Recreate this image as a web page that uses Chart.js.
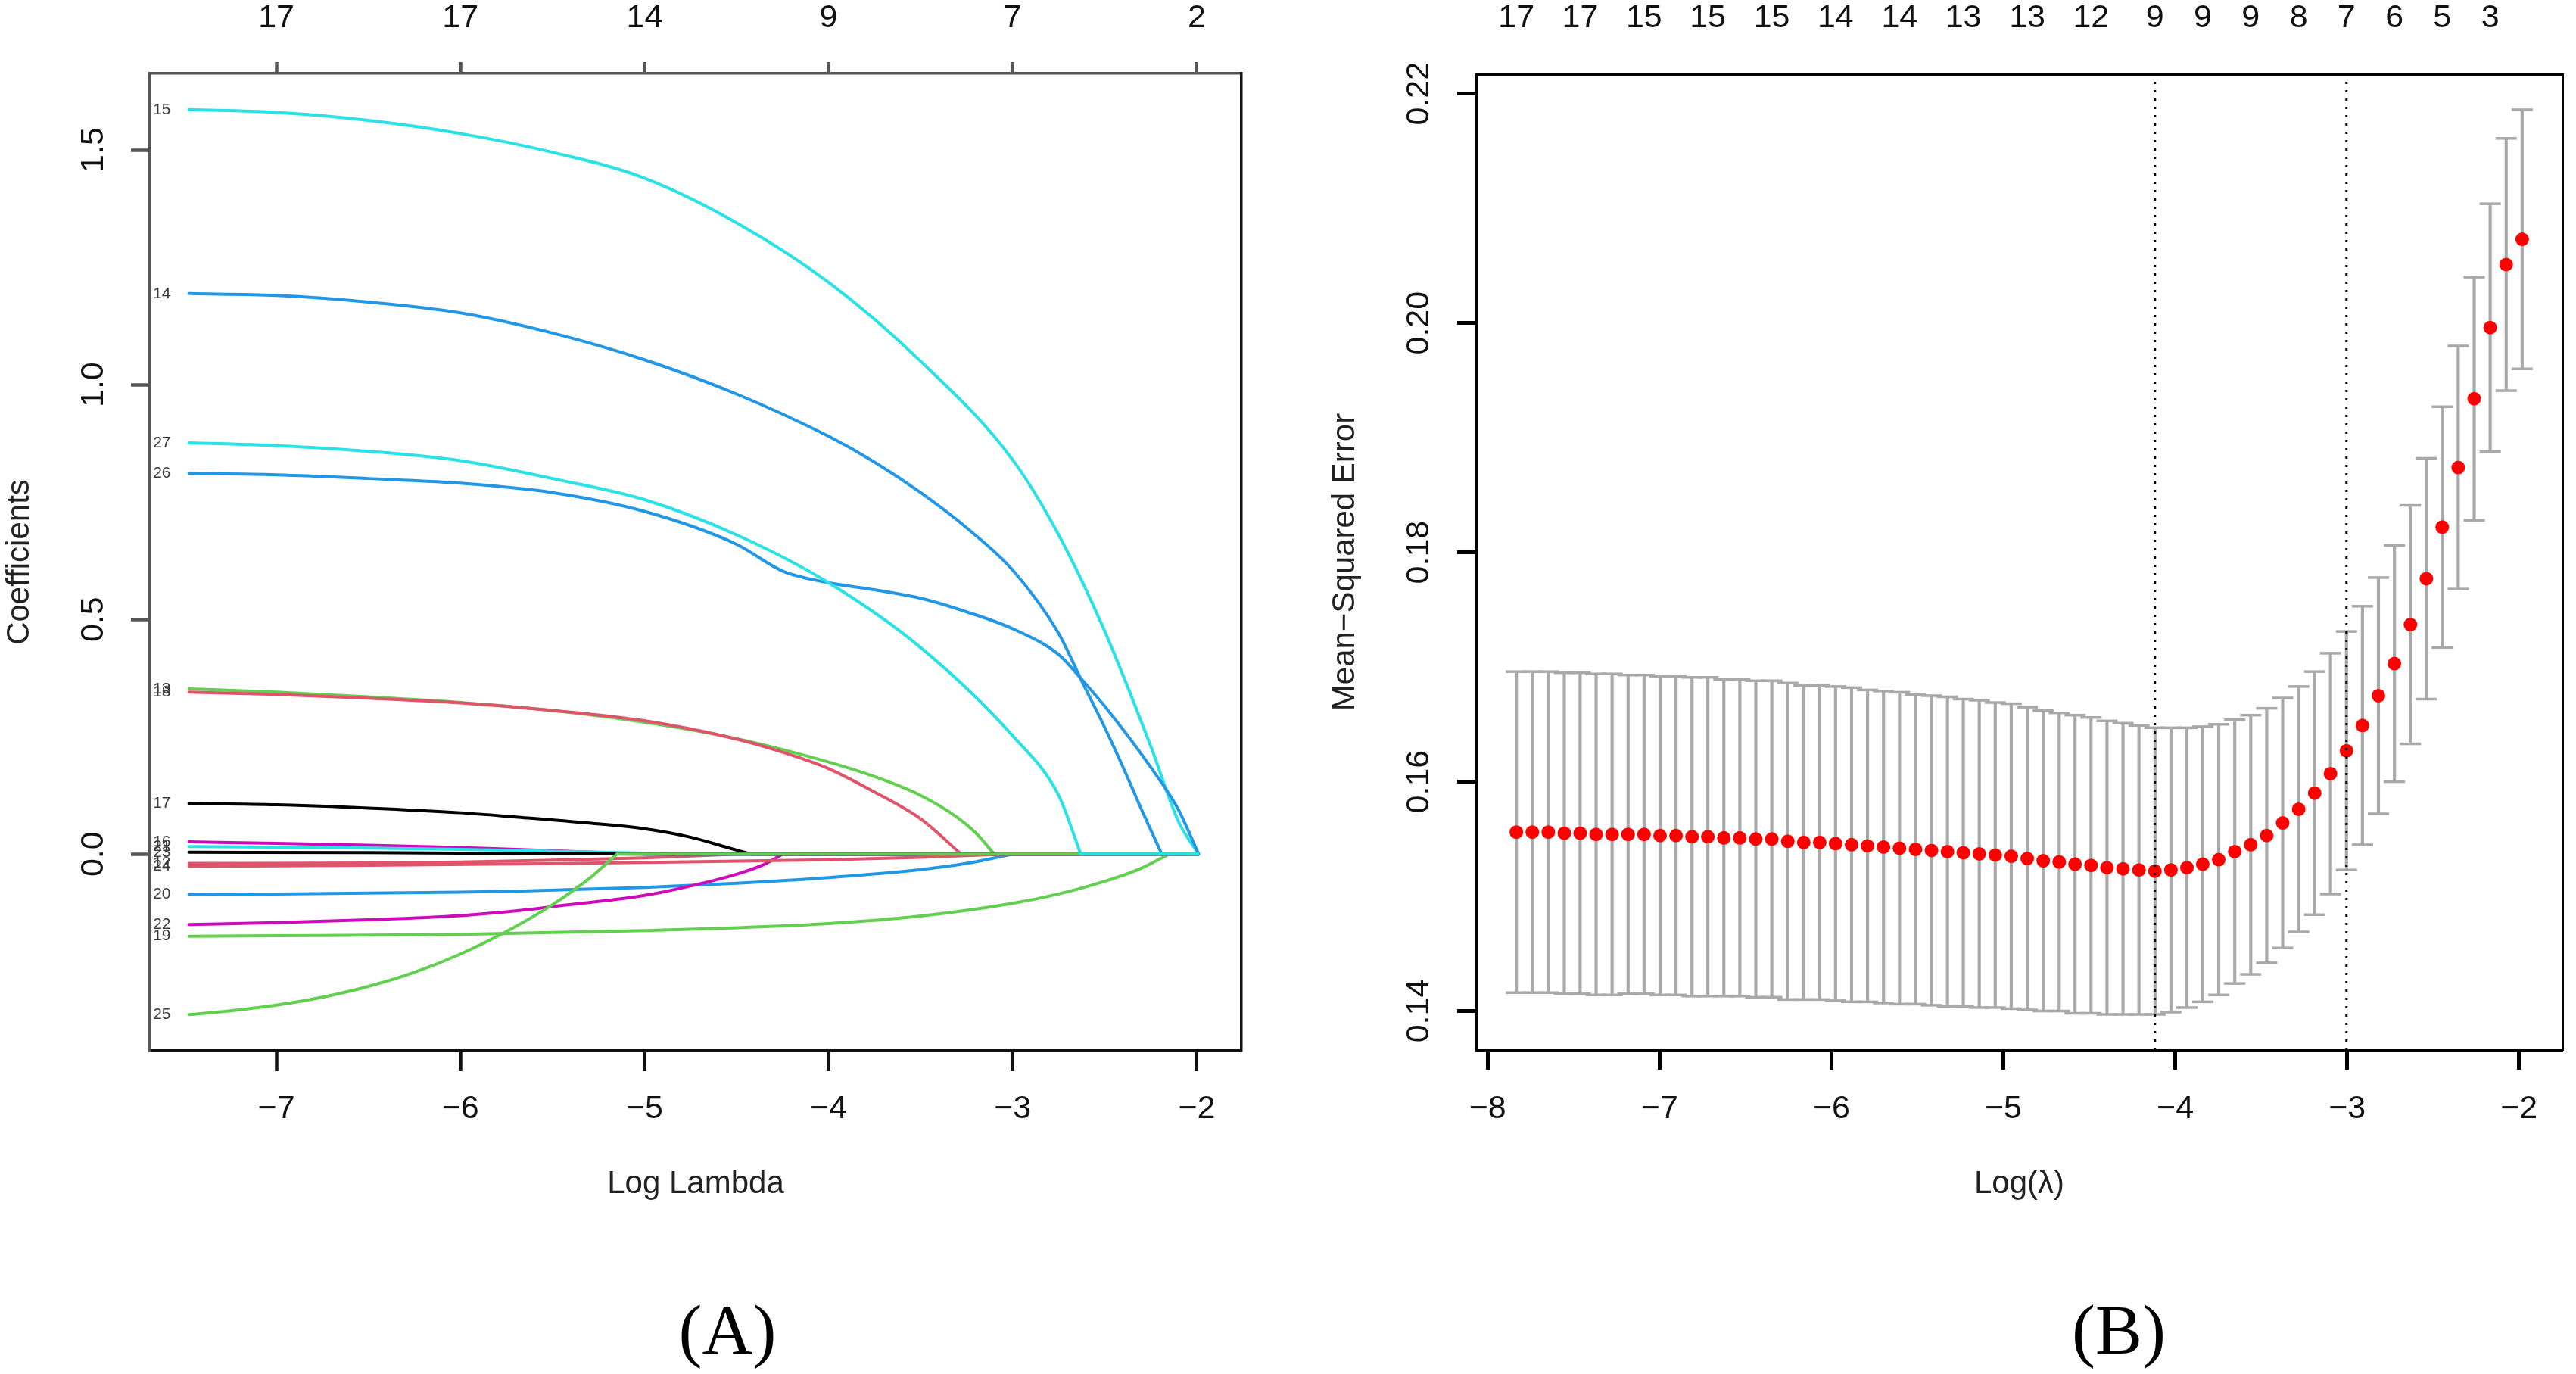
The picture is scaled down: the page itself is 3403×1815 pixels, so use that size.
<!DOCTYPE html>
<html>
<head>
<meta charset="utf-8">
<script src="https://cdn.jsdelivr.net/npm/chart.js@4.4.1/dist/chart.umd.min.js"></script>
<style>
  html, body { margin: 0; padding: 0; background: #fff; width: 3403px; height: 1815px; overflow: hidden; }
  canvas { position: absolute; top: 0; }
  #chartA { left: 0; }
  #chartB { left: 1700px; }
</style>
</head>
<body>
<canvas id="chartA" width="1700" height="1815"></canvas>
<canvas id="chartB" width="1703" height="1815"></canvas>
<script>
/* ---- (A) lasso coefficient paths: [log(lambda), coefficient] ---- */
var varIds = [12, 13, 14, 15, 16, 17, 18, 19, 20, 21, 22, 23, 24, 25, 26, 27];
var path12 = [[-7.475, -0.020], [-6.5, -0.019], [-6, -0.017], [-5.5, -0.013], [-5, -0.008], [-4.5, 0]];
var path13 = [[-7.475, 0.352], [-7, 0.345], [-6.5, 0.335], [-6, 0.323], [-5.5, 0.306], [-5, 0.281], [-4.5, 0.246], [-4, 0.196], [-3.75, 0.165], [-3.5, 0.125], [-3.3, 0.078], [-3.2, 0.045], [-3.1, 0]];
var path14 = [[-7.475, 1.194], [-7, 1.19], [-6.5, 1.176], [-6, 1.153], [-5.5, 1.11], [-5, 1.053], [-4.5, 0.98], [-4, 0.89], [-3.75, 0.835], [-3.5, 0.77], [-3.25, 0.695], [-3, 0.605], [-2.75, 0.47], [-2.62, 0.365], [-2.5, 0.27], [-2.4, 0.185], [-2.3, 0.095], [-2.19, 0]];
var path15 = [[-7.475, 1.586], [-7, 1.58], [-6.5, 1.563], [-6, 1.535], [-5.5, 1.495], [-5, 1.44], [-4.5, 1.345], [-4, 1.218], [-3.5, 1.05], [-3, 0.84], [-2.75, 0.68], [-2.5, 0.475], [-2.25, 0.23], [-2.1, 0.07], [-1.99, 0]];
var path16 = [[-7.475, 0.026], [-7, 0.023], [-6.5, 0.019], [-6, 0.014], [-5.5, 0.007], [-5.0, 0]];
var path17 = [[-7.475, 0.108], [-7, 0.105], [-6.5, 0.098], [-6, 0.088], [-5.7, 0.079], [-5.3, 0.066], [-5, 0.054], [-4.75, 0.036], [-4.55, 0.014], [-4.42, 0]];
var path18 = [[-7.475, 0.345], [-7, 0.34], [-6.5, 0.332], [-6, 0.322], [-5.5, 0.306], [-5, 0.284], [-4.5, 0.245], [-4.25, 0.217], [-4, 0.182], [-3.75, 0.132], [-3.5, 0.075], [-3.28, 0]];
var path19 = [[-7.475, -0.175], [-7, -0.174], [-6, -0.171], [-5, -0.163], [-4, -0.148], [-3.5, -0.132], [-3, -0.105], [-2.75, -0.085], [-2.5, -0.058], [-2.3, -0.03], [-2.15, 0]];
var path20 = [[-7.475, -0.086], [-7, -0.085], [-6, -0.081], [-5.7, -0.079], [-5, -0.071], [-4.5, -0.062], [-4, -0.05], [-3.5, -0.033], [-3.25, -0.02], [-3.0, 0]];
var path21 = [[-7.475, 0.016], [-6.5, 0.013], [-6, 0.010], [-5.5, 0.006], [-5, 0.002], [-4.8, 0]];
var path22 = [[-7.475, -0.150], [-7, -0.146], [-6.5, -0.14], [-6, -0.131], [-5.7, -0.121], [-5.5, -0.112], [-5, -0.088], [-4.75, -0.068], [-4.5, -0.043], [-4.35, -0.022], [-4.25, 0]];
var path23 = [[-7.475, 0.004], [-6.5, 0.003], [-6, 0.002], [-5, 0]];
var path24 = [[-7.475, -0.026], [-6.5, -0.024], [-5.7, -0.021], [-5, -0.018], [-4, -0.012], [-3.5, -0.007], [-3.05, 0]];
var path25 = [[-7.475, -0.342], [-7.25, -0.334], [-7, -0.322], [-6.75, -0.305], [-6.5, -0.282], [-6.25, -0.252], [-6, -0.213], [-5.75, -0.165], [-5.5, -0.108], [-5.3, -0.052], [-5.15, 0]];
var path26 = [[-7.475, 0.811], [-7, 0.808], [-6.5, 0.80], [-6, 0.79], [-5.5, 0.77], [-5, 0.73], [-4.5, 0.66], [-4.25, 0.603], [-4, 0.578], [-3.75, 0.563], [-3.5, 0.545], [-3.25, 0.516], [-3, 0.48], [-2.75, 0.425], [-2.62, 0.37], [-2.5, 0.315], [-2.25, 0.185], [-2.1, 0.095], [-1.99, 0]];
var path27 = [[-7.475, 0.876], [-7, 0.87], [-6.5, 0.858], [-6, 0.838], [-5.5, 0.80], [-5, 0.755], [-4.5, 0.68], [-4, 0.578], [-3.5, 0.44], [-3, 0.252], [-2.75, 0.125], [-2.63, 0]];
var lamEndA = -1.987;
var xRangeA = [-7.687, -1.757];
var yRangeA = [-0.419, 1.663];
var xTicksA = [-7, -6, -5, -4, -3, -2];
var topLabelsA = ['17', '17', '14', '9', '7', '2'];
var yTicksA = [0, 0.5, 1.0, 1.5];

/* ---- (B) cross-validation curve ---- */
var lamB = [-7.833, -7.740, -7.647, -7.554, -7.462, -7.369, -7.276, -7.183, -7.090, -6.997,
            -6.904, -6.811, -6.719, -6.626, -6.533, -6.440, -6.347, -6.254, -6.161, -6.068,
            -5.976, -5.883, -5.790, -5.697, -5.604, -5.511, -5.418, -5.325, -5.233, -5.140,
            -5.047, -4.954, -4.861, -4.768, -4.675, -4.583, -4.490, -4.397, -4.304, -4.211,
            -4.118, -4.025, -3.932, -3.840, -3.747, -3.654, -3.561, -3.468, -3.375, -3.282,
            -3.189, -3.097, -3.004, -2.911, -2.818, -2.725, -2.632, -2.539, -2.447, -2.354,
            -2.261, -2.168, -2.075, -1.982];
var mseB = [0.1556, 0.1556, 0.1556, 0.1555, 0.1555, 0.1554, 0.1554, 0.1554, 0.1554, 0.1553,
            0.1553, 0.1552, 0.1552, 0.1551, 0.1551, 0.1550, 0.1550, 0.1548, 0.1547, 0.1547,
            0.1546, 0.1545, 0.1544, 0.1543, 0.1542, 0.1541, 0.1540, 0.1539, 0.1538, 0.1537,
            0.1536, 0.1535, 0.1533, 0.1531, 0.1530, 0.1528, 0.1527, 0.1525, 0.1524, 0.1523,
            0.1522, 0.1523, 0.1525, 0.1528, 0.1532, 0.1539, 0.1545, 0.1553, 0.1564, 0.1576,
            0.1590, 0.1607, 0.1627, 0.1649, 0.1675, 0.1703, 0.1737, 0.1777, 0.1822, 0.1874,
            0.1934, 0.1996, 0.2051, 0.2073];
var seB = [0.0140, 0.0140, 0.0140, 0.0140, 0.0140, 0.0140, 0.0140, 0.0139, 0.0139, 0.0139,
           0.0139, 0.0139, 0.0139, 0.0138, 0.0138, 0.0138, 0.0138, 0.0138, 0.0137, 0.0137,
           0.0137, 0.0137, 0.0136, 0.0136, 0.0136, 0.0135, 0.0135, 0.0135, 0.0134, 0.0134,
           0.0133, 0.0133, 0.0132, 0.0131, 0.0130, 0.0130, 0.0129, 0.0128, 0.0127, 0.0126,
           0.0125, 0.0124, 0.0122, 0.0120, 0.0118, 0.0115, 0.0113, 0.0111, 0.0109, 0.0107,
           0.0106, 0.0105, 0.0104, 0.0104, 0.0103, 0.0103, 0.0104, 0.0105, 0.0105, 0.0106,
           0.0106, 0.0108, 0.0110, 0.0113];
var topIdxB = [0, 4, 8, 12, 16, 20, 24, 28, 32, 36, 40, 43, 46, 49, 52, 55, 58, 61];
var topLabelsB = ['17', '17', '15', '15', '15', '14', '14', '13', '13', '12', '9', '9', '9', '8', '7', '6', '5', '3'];
var minIdxB = 40, oneSeIdxB = 52;
var xRangeB = [-8.067, -1.748];
var yRangeB = [0.1366, 0.2217];
var xTicksB = [-8, -7, -6, -5, -4, -3, -2];
var yTicksB = [0.14, 0.16, 0.18, 0.20, 0.22];

/* ---- styling ---- */
var rPalette = ['#000000', '#DF536B', '#61D04F', '#2297E6', '#28E2E5', '#CD0BBC'];
var pathsA = { 12: path12, 13: path13, 14: path14, 15: path15, 16: path16, 17: path17, 18: path18, 19: path19,
               20: path20, 21: path21, 22: path22, 23: path23, 24: path24, 25: path25, 26: path26, 27: path27 };
var FONT = '"Liberation Sans", Arial, sans-serif';
Chart.defaults.font.family = FONT;
Chart.defaults.color = '#111';

function fmt(v, d) {
  var s = Math.abs(v).toFixed(d);
  return (v < -1e-9 ? '\u2212' : '') + s;
}
function fixSize(size) {
  return function (scale) {
    if (scale.isHorizontal()) scale.height = size; else scale.width = size;
  };
}
function setTicks(values) {
  return function (scale) { scale.ticks = values.map(function (v) { return { value: v }; }); };
}

function panelLetter(text, x) {
  return {
    id: 'panelLetter',
    afterDraw: function (chart) {
      var ctx = chart.ctx;
      ctx.save();
      ctx.font = '93px "Liberation Serif", "Times New Roman", serif';
      ctx.fillStyle = '#000';
      ctx.textAlign = 'center';
      ctx.textBaseline = 'alphabetic';
      ctx.fillText(text, x, 1788);
      ctx.restore();
    }
  };
}

var coefLabels = {
  id: 'coefLabels',
  afterDatasetsDraw: function (chart) {
    var xs = chart.scales.x, ys = chart.scales.y, ctx = chart.ctx;
    ctx.save();
    ctx.font = '21px ' + FONT;
    ctx.fillStyle = '#3a3a3a';
    ctx.textAlign = 'right';
    ctx.textBaseline = 'middle';
    varIds.forEach(function (id) {
      var p = pathsA[id][0];
      ctx.fillText(String(id), xs.getPixelForValue(p[0]) - 24, ys.getPixelForValue(p[1]));
    });
    ctx.restore();
  }
};

/* ---- chart A ---- */
var datasetsA = [];
varIds.forEach(function (id) {
  var pts = pathsA[id];
  var col = rPalette[(id + 1) % 6];
  var last = pts[pts.length - 1];
  datasetsA.push({
    data: pts.map(function (p) { return { x: p[0], y: p[1] }; }),
    showLine: true, borderColor: col, borderWidth: 4, pointRadius: 0,
    cubicInterpolationMode: 'monotone', borderCapStyle: 'round', borderJoinStyle: 'round',
    order: 100 - id
  });
  if (last[0] < lamEndA) {
    datasetsA.push({
      data: [{ x: last[0], y: 0 }, { x: lamEndA, y: 0 }],
      showLine: true, borderColor: col, borderWidth: 4, pointRadius: 0,
      order: 100 - id
    });
  }
});

new Chart(document.getElementById('chartA'), {
  type: 'scatter',
  data: { datasets: datasetsA },
  options: {
    responsive: false, animation: false, devicePixelRatio: 1,
    layout: { padding: { left: 0, top: 0, right: 60, bottom: 0 } },
    plugins: { legend: { display: false }, tooltip: { enabled: false } },
    scales: {
      x: {
        type: 'linear', position: 'bottom', min: xRangeA[0], max: xRangeA[1],
        afterFit: fixSize(427), afterBuildTicks: setTicks(xTicksA),
        grid: { drawOnChartArea: false, drawTicks: true, tickLength: 27, tickWidth: 4.5, tickColor: '#111' },
        border: { display: true, color: '#111', width: 3.5 },
        ticks: { padding: 24, autoSkip: false, maxRotation: 0, font: { size: 43 }, color: '#111',
                 callback: function (v) { return fmt(v, 0); } },
        title: { display: true, text: 'Log Lambda', color: '#222', font: { size: 42 }, padding: { top: 0, bottom: 225 } }
      },
      xTop: {
        axis: 'x', type: 'linear', position: 'top', min: xRangeA[0], max: xRangeA[1],
        afterFit: fixSize(97), afterBuildTicks: setTicks(xTicksA),
        grid: { drawOnChartArea: false, drawTicks: true, tickLength: 15, tickWidth: 4.5, tickColor: '#555' },
        border: { display: true, color: '#555', width: 3.5 },
        ticks: { padding: 32, autoSkip: false, maxRotation: 0, font: { size: 43 }, color: '#111',
                 callback: function (v, i) { return topLabelsA[i]; } }
      },
      y: {
        type: 'linear', position: 'left', min: yRangeA[0], max: yRangeA[1],
        afterFit: fixSize(198), afterBuildTicks: setTicks(yTicksA),
        grid: { drawOnChartArea: false, drawTicks: true, tickLength: 25, tickWidth: 4.5, tickColor: '#555' },
        border: { display: true, color: '#555', width: 3.5 },
        ticks: { padding: 19, minRotation: 90, maxRotation: 90, crossAlign: 'center', autoSkip: false,
                 font: { size: 43 }, color: '#111', callback: function (v) { return fmt(v, 1); } },
        title: { display: true, text: 'Coefficients', color: '#222', font: { size: 42 }, padding: { top: 1, bottom: 0 } }
      },
      yRight: {
        axis: 'y', type: 'linear', position: 'right',
        afterFit: fixSize(0),
        grid: { drawOnChartArea: false, drawTicks: false },
        border: { display: true, color: '#111', width: 3.5 },
        ticks: { display: false }
      }
    }
  },
  plugins: [coefLabels, panelLetter('(A)', 961)]
});

/* ---- chart B ---- */
var pointsB = lamB.map(function (x, i) { return { x: x, y: mseB[i] }; });
var stemsB = lamB.map(function (x, i) { return { x: x, y: [mseB[i] - seB[i], mseB[i] + seB[i]] }; });
var upCapsB = lamB.map(function (x, i) { return { x: x, y: mseB[i] + seB[i] }; });
var loCapsB = lamB.map(function (x, i) { return { x: x, y: mseB[i] - seB[i] }; });
function vline(idx) {
  return {
    data: [{ x: lamB[idx], y: yRangeB[0] }, { x: lamB[idx], y: yRangeB[1] }],
    showLine: true, borderColor: '#000', borderWidth: 3, borderDash: [3, 8], pointRadius: 0, order: 0
  };
}

new Chart(document.getElementById('chartB'), {
  type: 'scatter',
  data: {
    datasets: [
      vline(minIdxB),
      vline(oneSeIdxB),
      { data: pointsB, pointRadius: 9, pointBackgroundColor: '#ff0000', pointBorderWidth: 0, order: 1 },
      { data: upCapsB, pointStyle: 'line', pointRadius: 14, pointBorderWidth: 3.5, pointBorderColor: '#A9A9A9', order: 2 },
      { data: loCapsB, pointStyle: 'line', pointRadius: 14, pointBorderWidth: 3.5, pointBorderColor: '#A9A9A9', order: 2 },
      { type: 'bar', data: stemsB, backgroundColor: '#A9A9A9', borderWidth: 0, barThickness: 3.5, order: 3 }
    ]
  },
  options: {
    responsive: false, animation: false, devicePixelRatio: 1,
    layout: { padding: { left: 0, top: 0, right: 18, bottom: 0 } },
    plugins: { legend: { display: false }, tooltip: { enabled: false } },
    scales: {
      x: {
        type: 'linear', position: 'bottom', min: xRangeB[0], max: xRangeB[1], offset: false,
        afterFit: fixSize(428), afterBuildTicks: setTicks(xTicksB),
        grid: { drawOnChartArea: false, drawTicks: true, tickLength: 26, tickWidth: 5, tickColor: '#000', offset: false },
        border: { display: true, color: '#000', width: 3 },
        ticks: { padding: 26, autoSkip: false, maxRotation: 0, font: { size: 43 }, color: '#111',
                 callback: function (v) { return fmt(v, 0); } },
        title: { display: true, text: 'Log(\u03bb)', color: '#222', font: { size: 42 }, padding: { top: 0, bottom: 225 } }
      },
      xTop: {
        axis: 'x', type: 'linear', position: 'top', min: xRangeB[0], max: xRangeB[1],
        afterFit: fixSize(98),
        afterBuildTicks: function (scale) { scale.ticks = topIdxB.map(function (i) { return { value: lamB[i] }; }); },
        grid: { drawOnChartArea: false, drawTicks: false },
        border: { display: true, color: '#000', width: 3 },
        ticks: { padding: 48, autoSkip: false, maxRotation: 0, font: { size: 43 }, color: '#111',
                 callback: function (v, i) { return topLabelsB[i]; } }
      },
      y: {
        type: 'linear', position: 'left', min: yRangeB[0], max: yRangeB[1],
        afterFit: fixSize(250), afterBuildTicks: setTicks(yTicksB),
        grid: { drawOnChartArea: false, drawTicks: true, tickLength: 25, tickWidth: 5, tickColor: '#000' },
        border: { display: true, color: '#000', width: 3 },
        ticks: { padding: 8, minRotation: 90, maxRotation: 90, crossAlign: 'center', autoSkip: false,
                 font: { size: 43 }, color: '#111', callback: function (v) { return fmt(v, 2); } },
        title: { display: true, text: 'Mean\u2212Squared Error', color: '#222', font: { size: 42 }, padding: { top: 52, bottom: 0 } }
      },
      yRight: {
        axis: 'y', type: 'linear', position: 'right',
        afterFit: fixSize(0),
        grid: { drawOnChartArea: false, drawTicks: false },
        border: { display: true, color: '#000', width: 3 },
        ticks: { display: false }
      }
    }
  },
  plugins: [panelLetter('(B)', 1099)]
});
</script>
</body>
</html>
